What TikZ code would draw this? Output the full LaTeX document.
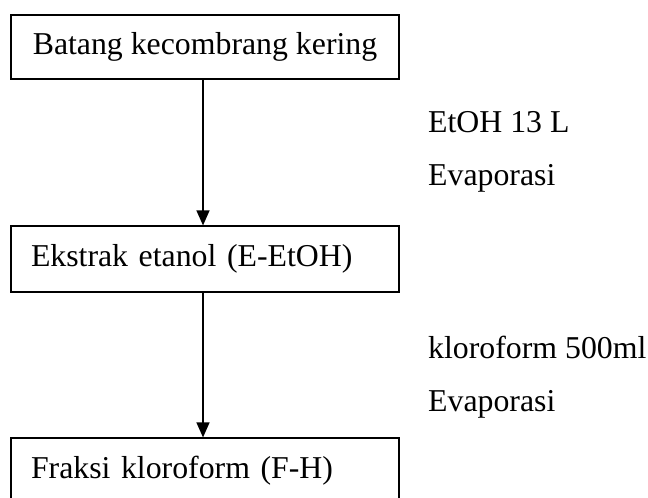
\documentclass[tikz,border=0pt]{standalone}
\usepackage{fontspec}
\setmainfont{Liberation Serif}
\usetikzlibrary{arrows.meta}
\begin{document}
\begin{tikzpicture}[x=1pt,y=-1pt,
		stage/.style={draw, line width=1.2pt, minimum height=66pt, minimum width=388pt, inner xsep=0pt,
			text height=22pt, text depth=7pt, font=\fontsize{31.8}{38}\selectfont},
		leftstage/.style={stage, text width=348pt, inner xsep=20pt, align=left},
		note/.style={anchor=base west, inner sep=0pt, font=\fontsize{31.8}{38}\selectfont},
		flow/.style={-{Triangle[length=15pt,width=13pt]}, line width=1.2pt}]
		\useasboundingbox (0,0) rectangle (648,498);
		\clip (0,0) rectangle (648,498);

		\node[stage, minimum height=64pt] (kering) at (205,47) {Batang kecombrang kering};
		\node[leftstage] (etanol) at (205,259) {Ekstrak etanol (E-EtOH)};
		\node[leftstage] (fraksi) at (205,471) {Fraksi kloroform (F-H)};

		\draw[flow] ([xshift=-2pt]kering.south) -- ([xshift=-2pt]etanol.north);
		\draw[flow] ([xshift=-2pt]etanol.south) -- ([xshift=-2pt]fraksi.north);

		\node[note] (pelarut1) at (428,132) {EtOH 13 L};
		\node[note] (evap1) at (428,185) {Evaporasi};
		\node[note] (pelarut2) at (428,358) {kloroform 500ml};
		\node[note] (evap2) at (428,411) {Evaporasi};
\end{tikzpicture}
\end{document}
